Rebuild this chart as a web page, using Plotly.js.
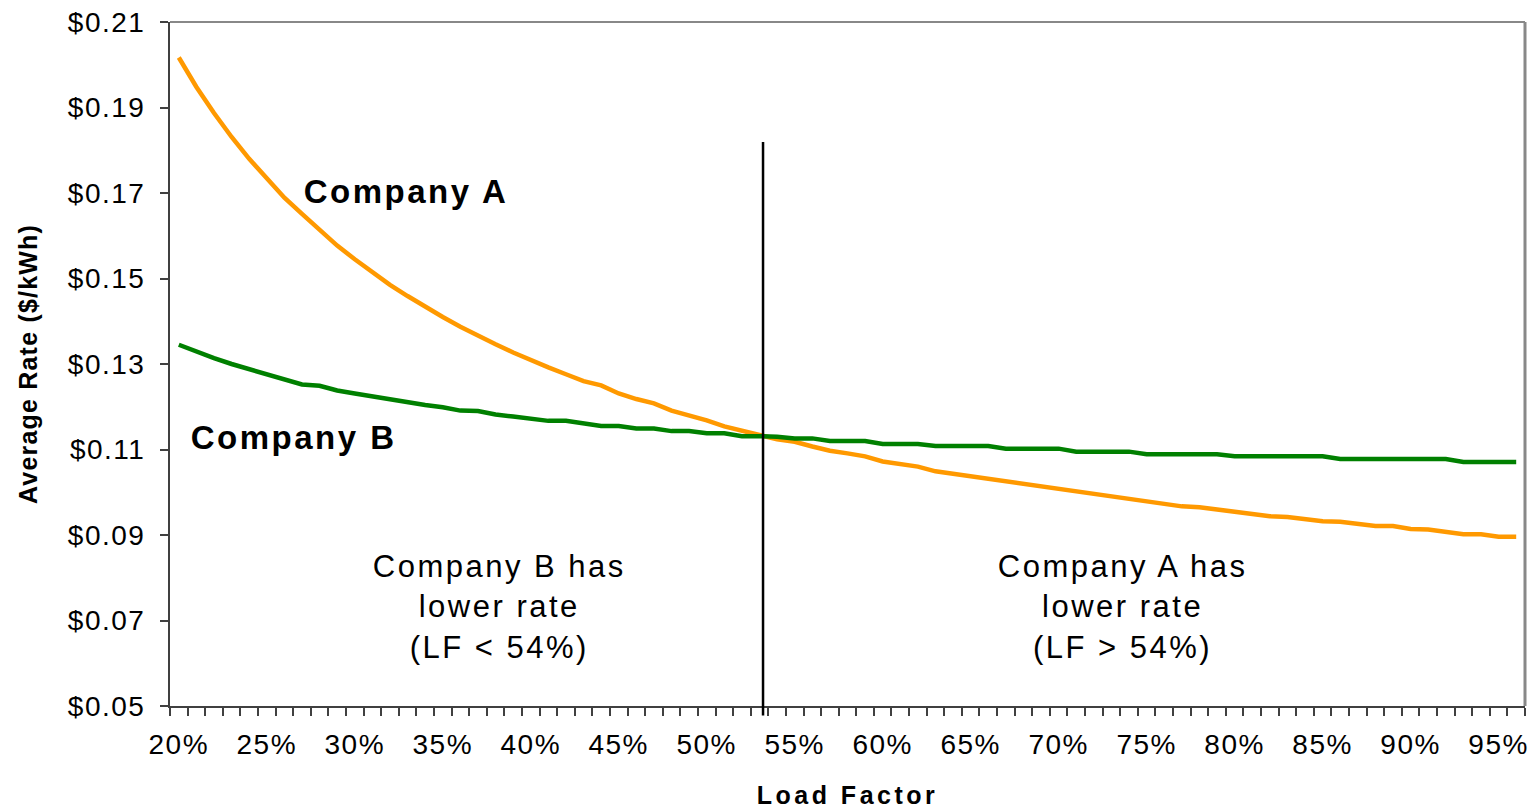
<!DOCTYPE html>
<html>
<head>
<meta charset="utf-8">
<script src="https://cdn.plot.ly/plotly-3.0.1.min.js"></script>
<style>
  html, body { margin: 0; padding: 0; background: #ffffff; }
  #chart { width: 1535px; height: 809px; }
  #chart text.annotation-text { letter-spacing: 2.5px; }
  #chart g.xtick text, #chart g.ytick text { letter-spacing: 1.5px; }
  #chart text.xtitle { letter-spacing: 3.5px; }
  #chart text.ytitle { letter-spacing: 1.2px; }
</style>
</head>
<body>
<div id="chart"></div>
<script>
// Load factor categories (%)
const loadFactor = [
  20,21,22,23,24,25,26,27,28,29,
  30,31,32,33,34,35,36,37,38,39,
  40,41,42,43,44,45,46,47,48,49,
  50,51,52,53,54,55,56,57,58,59,
  60,61,62,63,64,65,66,67,68,69,
  70,71,72,73,74,75,76,77,78,79,
  80,81,82,83,84,85,86,87,88,89,
  90,91,92,93,94,95,96
];

// Company A average rate ($/kWh)
const companyA = [
  0.2017,0.1948,0.1887,0.1831,0.1780,0.1733,0.1689,0.1651,0.1613,0.1577,
  0.1545,0.1514,0.1485,0.1459,0.1433,0.1410,0.1387,0.1366,0.1346,0.1327,
  0.1309,0.1292,0.1276,0.1260,0.1250,0.1231,0.1218,0.1208,0.1191,0.1180,
  0.1168,0.1154,0.1145,0.1134,0.1124,0.1118,0.1107,0.1097,0.1091,0.1084,
  0.1072,0.1066,0.1060,0.1049,0.1043,0.1037,0.1031,0.1025,0.1020,0.1014,
  0.1008,0.1002,0.0996,0.0991,0.0985,0.0979,0.0973,0.0967,0.0965,0.0960,
  0.0955,0.0950,0.0944,0.0942,0.0937,0.0932,0.0931,0.0926,0.0921,0.0921,
  0.0914,0.0913,0.0908,0.0902,0.0902,0.0896,0.0896
];

// Company B average rate ($/kWh)
const companyB = [
  0.1345,0.1329,0.1314,0.1300,0.1288,0.1276,0.1265,0.1252,0.1249,0.1238,
  0.1231,0.1224,0.1217,0.1209,0.1204,0.1199,0.1191,0.1190,0.1182,0.1177,
  0.1172,0.1167,0.1167,0.1161,0.1155,0.1155,0.1149,0.1149,0.1143,0.1143,
  0.1138,0.1138,0.1131,0.1131,0.1130,0.1126,0.1126,0.1120,0.1120,0.1120,
  0.1113,0.1113,0.1113,0.1108,0.1108,0.1108,0.1108,0.1102,0.1102,0.1102,
  0.1102,0.1095,0.1095,0.1095,0.1095,0.1089,0.1089,0.1089,0.1089,0.1089,
  0.1084,0.1084,0.1084,0.1084,0.1084,0.1084,0.1078,0.1078,0.1078,0.1078,
  0.1078,0.1078,0.1078,0.1071,0.1071,0.1071,0.1071
];

// X tick labels
const xTickValues = [20,25,30,35,40,45,50,55,60,65,70,75,80,85,90,95];
const xTickLabels = ['20%','25%','30%','35%','40%','45%','50%','55%','60%','65%','70%','75%','80%','85%','90%','95%'];

// Crossover load factor where the two rates meet
const crossoverLF = 53.2;

const FONT = 'Liberation Sans, Arial, sans-serif';

const traces = [
  {
    x: loadFactor, y: companyA, type: 'scatter', mode: 'lines', name: 'Company A',
    line: { color: '#FF9900', width: 4.5 }
  },
  {
    x: loadFactor, y: companyB, type: 'scatter', mode: 'lines', name: 'Company B',
    line: { color: '#008000', width: 4.5 }
  }
];

const layout = {
  width: 1535, height: 809,
  margin: { l: 170, r: 10, t: 22, b: 103, pad: 0 },
  paper_bgcolor: '#ffffff', plot_bgcolor: '#ffffff',
  showlegend: false,
  font: { family: FONT, color: '#000000' },
  xaxis: {
    range: [19.5, 96.5],
    autorange: false,
    showgrid: false, zeroline: false,
    showline: true, linecolor: '#404040', linewidth: 2,
    tickmode: 'array', tickvals: xTickValues, ticktext: xTickLabels,
    ticks: '', ticklabelstandoff: 12,
    tickfont: { family: FONT, size: 28, color: '#000000' },
    minor: { tick0: 19.5, dtick: 1, ticks: 'outside', ticklen: 8, tickwidth: 1.5, tickcolor: '#404040', showgrid: false },
    title: { text: '<b>Load Factor</b>', font: { family: FONT, size: 25, color: '#000000' }, standoff: 32 },
    automargin: false
  },
  yaxis: {
    range: [0.05, 0.21],
    autorange: false,
    showgrid: false, zeroline: false,
    showline: true, linecolor: '#404040', linewidth: 2,
    tickmode: 'linear', tick0: 0.05, dtick: 0.02,
    ticks: 'outside', ticklen: 8, tickwidth: 1.5, tickcolor: '#404040',
    tickprefix: '$', tickformat: '.2f',
    ticklabelstandoff: 9,
    tickfont: { family: FONT, size: 28, color: '#000000' },
    title: { text: '<b>Average Rate ($/kWh)</b>', font: { family: FONT, size: 25, color: '#000000' }, standoff: 31 },
    automargin: false
  },
  shapes: [
    { type: 'line', xref: 'x', yref: 'paper', x0: crossoverLF, x1: crossoverLF, y0: -0.014, y1: 0.8244,
      line: { color: '#000000', width: 2.5 } },
    { type: 'line', xref: 'paper', yref: 'paper', x0: 0, x1: 1, y0: 1, y1: 1,
      line: { color: '#888888', width: 2 } },
    { type: 'line', xref: 'paper', yref: 'paper', x0: 1, x1: 1, y0: 0, y1: 1,
      line: { color: '#888888', width: 3 } }
  ],
  annotations: [
    { x: 32.9, y: 0.1703, xref: 'x', yref: 'y', text: '<b>Company A</b>', showarrow: false,
      font: { family: FONT, size: 33, color: '#000000' } },
    { x: 26.54, y: 0.1129, xref: 'x', yref: 'y', text: '<b>Company B</b>', showarrow: false,
      font: { family: FONT, size: 33, color: '#000000' } },
    { x: 38.2, y: 0.0731, xref: 'x', yref: 'y', text: 'Company B has<br>lower rate<br>(LF &lt; 54%)', showarrow: false,
      font: { family: FONT, size: 31, color: '#000000' } },
    { x: 73.65, y: 0.0731, xref: 'x', yref: 'y', text: 'Company A has<br>lower rate<br>(LF &gt; 54%)', showarrow: false,
      font: { family: FONT, size: 31, color: '#000000' } }
  ]
};

Plotly.newPlot('chart', traces, layout, { displayModeBar: false, responsive: false });
</script>
</body>
</html>
